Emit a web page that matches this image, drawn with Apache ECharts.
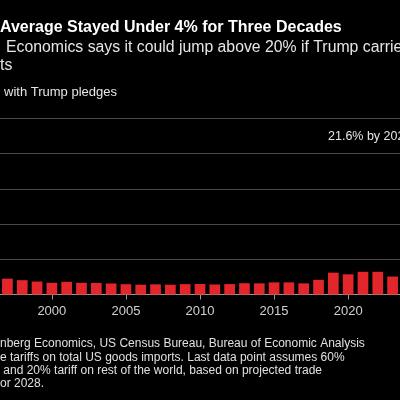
<!DOCTYPE html>
<html><head><meta charset="utf-8">
<script src="https://cdn.jsdelivr.net/npm/echarts@6/dist/echarts.min.js"></script>
<style>html,body{margin:0;padding:0;background:#000}#c{width:400px;height:400px}</style>
</head><body><div id="c"></div>
<script>
const years = ['1997','1998','1999','2000','2001','2002','2003','2004','2005','2006','2007','2008','2009','2010','2011','2012','2013','2014','2015','2016','2017','2018','2019','2020','2021','2022','2023'];
const tariffRate = [2.25,2.03,1.84,1.66,1.8,1.66,1.64,1.56,1.46,1.39,1.44,1.39,1.47,1.49,1.42,1.48,1.6,1.58,1.72,1.72,1.58,2.08,3.1,2.86,3.22,3.22,2.55];
const yTicks = [0,5,10,15,20,25];
const titleText = 'Average Stayed Under 4% for Three Decades';
const subtitleLines = ['Economics says it could jump above 20% if Trump carries out', 'ts'];
const legendText = 'with Trump pledges';
const annotationText = '21.6% by 2028';
const footerLines = [
  'nberg Economics, US Census Bureau, Bureau of Economic Analysis',
  'e tariffs on total US goods imports. Last data point assumes 60%',
  ' and 20% tariff on rest of the world, based on projected trade',
  'or 2028.'
];

const chart = echarts.init(document.getElementById('c'));
const FF = '"Liberation Sans", Arial, sans-serif';
const graphics = [];
graphics.push({type:'text', x:0, y:28, style:{text:titleText, fill:'#ffffff', font:'bold 16px '+FF, textVerticalAlign:'middle'}});
graphics.push({type:'text', x:6, y:48, style:{text:subtitleLines[0], fill:'#e6e6e6', font:'15.8px '+FF, textVerticalAlign:'middle'}});
graphics.push({type:'text', x:0, y:66, style:{text:subtitleLines[1], fill:'#e6e6e6', font:'15.8px '+FF, textVerticalAlign:'middle'}});
graphics.push({type:'text', x:4, y:92, style:{text:legendText, fill:'#e6e6e6', font:'13px '+FF, textVerticalAlign:'middle'}});
graphics.push({type:'text', x:328, y:137, style:{text:annotationText, fill:'#e6e6e6', font:'12.5px '+FF, textVerticalAlign:'middle'}});
const fy = [344, 358, 371, 384];
footerLines.forEach((l,i)=>graphics.push({type:'text', x:0, y:fy[i], style:{text:l, fill:'#e0e0e0', font:'12px '+FF, textVerticalAlign:'middle'}}));

chart.setOption({
  backgroundColor:'#000',
  animation:false,
  grid:{left:-2, right:-12, top:118.3, bottom:105.5, containLabel:false},
  xAxis:{
    type:'category', data:years, boundaryGap:true,
    axisLine:{show:true, lineStyle:{color:'#9a9a9a', width:1}},
    axisTick:{show:true, alignWithLabel:true, length:5, lineStyle:{color:'#9a9a9a'}, interval:(i,v)=>Number(v)%5===0},
    axisLabel:{show:true, color:'#d0d0d0', fontSize:13, fontFamily:FF, margin:10, interval:(i,v)=>Number(v)%5===0}
  },
  yAxis:{
    type:'value', min:yTicks[0], max:yTicks[yTicks.length-1], interval:5,
    axisLabel:{show:false}, axisLine:{show:false}, axisTick:{show:false},
    splitLine:{show:true, lineStyle:{color:'#4a4a4a', width:1}}
  },
  series:[{type:'bar', data:tariffRate, barWidth:10.7, itemStyle:{color:'#e3262b'}}],
  graphic:graphics
});
</script></body></html>
